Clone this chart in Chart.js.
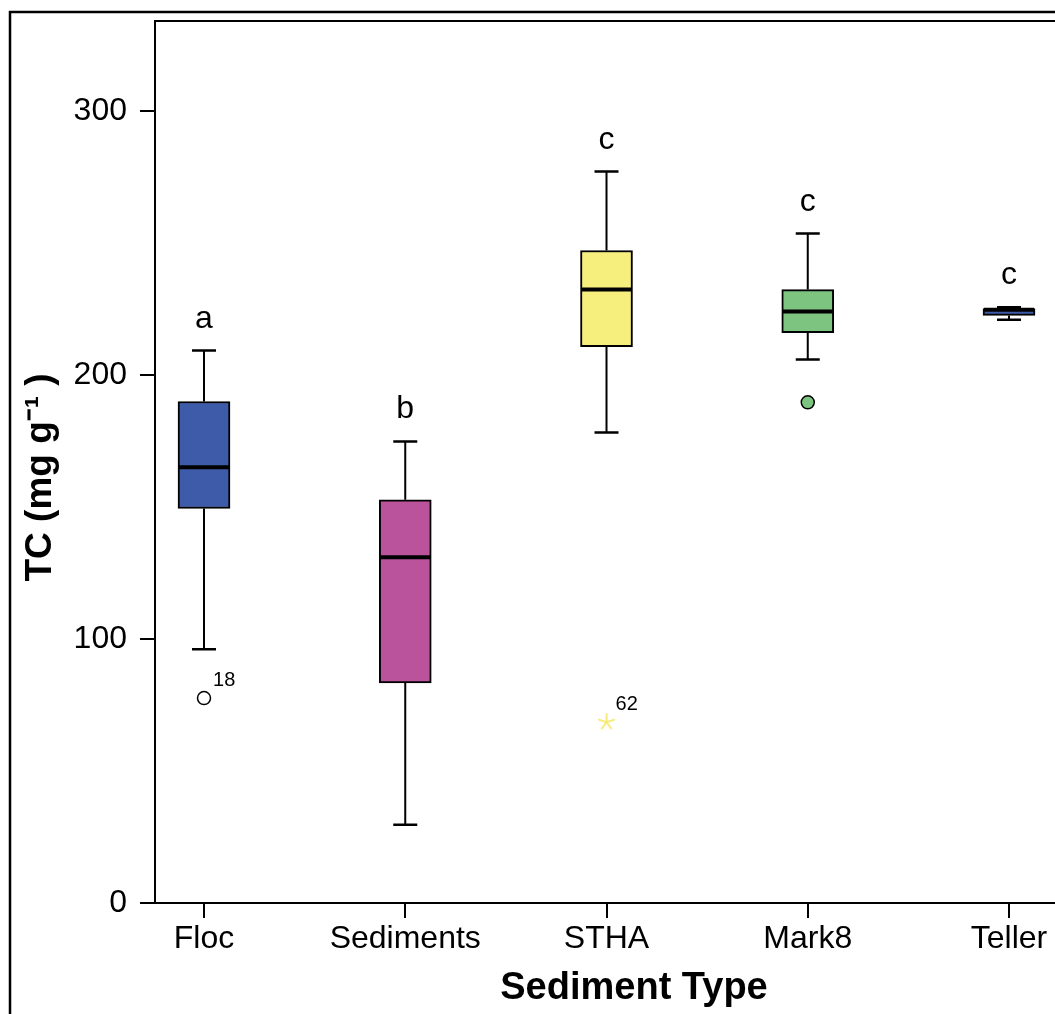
<!DOCTYPE html>
<html>
<head>
<meta charset="utf-8">
<script src="https://cdn.jsdelivr.net/npm/chart.js@4.4.1/dist/chart.umd.min.js"></script>
<style>
html, body { margin: 0; padding: 0; background: #fff; overflow: hidden; }
#wrap { position: absolute; left: 0; top: 0; width: 1130px; height: 1040px; }
</style>
</head>
<body>
<div id="wrap"><canvas id="boxChart" width="1130" height="1040"></canvas></div>
<script>
// --- DATA ---
const categories = ['Floc', 'Sediments', 'STHA', 'Mark8', 'Teller'];
const whiskerLow  = [96.1, 29.6, 178.2, 205.8, 220.9];
const q1          = [149.4, 83.3, 210.7, 216.0, 222.5];
const medians     = [165.0, 130.9, 232.3, 224.0, 224.7];
const q3          = [189.9, 152.7, 247.1, 232.3, 225.1];
const whiskerHigh = [209.2, 174.8, 277.0, 253.5, 225.6];
const groupLetters = ['a', 'b', 'c', 'c', 'c'];

// outliers : category number (1 = Floc), value, case id
const outlierCat = [1, 3, 4];
const outlierVal = [77.6, 68.5, 189.6];
const outlierId  = ['18', '62', ''];

const yTicks = [0, 100, 200, 300];

// --- STYLES ---
const FONT = "'Liberation Sans', Arial, sans-serif";
const boxColors = ['#3e5ba9', '#ba539c', '#f6ef7e', '#7cc47f', '#3e5ba9'];

// petite étoile jaune (astérisque à 5 branches) pour le cas extrême
function makeStar(color) {
    const c = document.createElement('canvas');
    c.width = 20; c.height = 20;
    const g = c.getContext('2d');
    g.strokeStyle = color;
    g.lineWidth = 1.8;
    g.lineCap = 'round';
    for (let k = 0; k < 5; k++) {
        const a = -Math.PI / 2 + k * 2 * Math.PI / 5;
        g.beginPath();
        g.moveTo(10, 10);
        g.lineTo(10 + 8 * Math.cos(a), 10 + 8 * Math.sin(a));
        g.stroke();
    }
    return c;
}
const outlierShape  = ['circle', makeStar('#f5e96a'), 'circle'];
const outlierFill   = ['#ffffff', '#f5e96a', '#7cc47f'];
const outlierBorder = ['#000000', '#f5e96a', '#000000'];

// --- PLUGIN : moustaches, médianes, lettres, cadre ---
const boxExtras = {
    id: 'boxExtras',
    beforeDraw(chart) {
        const ctx = chart.ctx;
        ctx.save();
        ctx.strokeStyle = '#000';
        ctx.lineWidth = 2.5;
        ctx.strokeRect(10, 12, chart.width + 100, chart.height + 100);
        ctx.restore();
    },
    beforeDatasetsDraw(chart) {
        const { ctx, scales: { x, y } } = chart;
        ctx.save();
        ctx.strokeStyle = '#000';
        categories.forEach((c, i) => {
            const px = x.getPixelForValue(i + 1);
            const top = y.getPixelForValue(whiskerHigh[i]);
            const bot = y.getPixelForValue(whiskerLow[i]);
            ctx.lineWidth = 2;
            ctx.beginPath();
            ctx.moveTo(px, top); ctx.lineTo(px, y.getPixelForValue(q3[i]));
            ctx.moveTo(px, bot); ctx.lineTo(px, y.getPixelForValue(q1[i]));
            ctx.stroke();
            ctx.lineWidth = 2.5;
            ctx.beginPath();
            ctx.moveTo(px - 12, top); ctx.lineTo(px + 12, top);
            ctx.moveTo(px - 12, bot); ctx.lineTo(px + 12, bot);
            ctx.stroke();
        });
        ctx.restore();
    },
    afterDatasetsDraw(chart) {
        const { ctx, chartArea, scales: { x, y } } = chart;
        ctx.save();
        // cadre du haut
        ctx.strokeStyle = '#000';
        ctx.lineWidth = 2;
        ctx.beginPath();
        ctx.moveTo(chartArea.left, chartArea.top);
        ctx.lineTo(chart.width, chartArea.top);
        ctx.stroke();

        // médianes
        ctx.lineWidth = 4;
        categories.forEach((c, i) => {
            const px = x.getPixelForValue(i + 1);
            const py = y.getPixelForValue(medians[i]);
            ctx.beginPath();
            ctx.moveTo(px - 25, py); ctx.lineTo(px + 25, py);
            ctx.stroke();
        });

        // lettres de groupe
        ctx.fillStyle = '#000';
        ctx.font = `32px ${FONT}`;
        ctx.textAlign = 'center';
        ctx.textBaseline = 'alphabetic';
        categories.forEach((c, i) => {
            ctx.fillText(groupLetters[i], x.getPixelForValue(i + 1), y.getPixelForValue(whiskerHigh[i]) - 23);
        });

        // numéros des cas aberrants
        ctx.font = `20px ${FONT}`;
        ctx.textAlign = 'left';
        outlierId.forEach((id, k) => {
            if (!id) return;
            ctx.fillText(id, x.getPixelForValue(outlierCat[k]) + 9, y.getPixelForValue(outlierVal[k]) - 12);
        });
        ctx.restore();
    }
};

const axisGrid = { drawOnChartArea: false, drawTicks: true, tickLength: 15, color: '#000', lineWidth: 2, offset: false };
const axisBorder = { display: true, color: '#000', width: 2 };
const noPad = s => { s.paddingTop = 0; s.paddingBottom = 0; s.paddingLeft = 0; s.paddingRight = 0; };

new Chart(document.getElementById('boxChart'), {
    type: 'bar',
    data: {
        datasets: [
            {
                type: 'scatter',
                data: outlierCat.map((c, k) => ({ x: c, y: outlierVal[k] })),
                pointStyle: outlierShape,
                pointRadius: 6.5,
                pointBorderWidth: 1.5,
                pointBackgroundColor: outlierFill,
                pointBorderColor: outlierBorder,
                order: 0
            },
            {
                type: 'bar',
                data: categories.map((c, i) => ({ x: i + 1, y: [q1[i], q3[i]] })),
                backgroundColor: boxColors,
                borderColor: '#000',
                borderWidth: 2,
                borderSkipped: false,
                barThickness: 52,
                order: 1
            }
        ]
    },
    options: {
        responsive: false,
        animation: false,
        devicePixelRatio: 1,
        layout: { padding: { top: 21, right: 17, left: 0, bottom: 0 } },
        plugins: { legend: { display: false }, tooltip: { enabled: false } },
        scales: {
            x: {
                type: 'linear',
                offset: false,
                min: 0.7565,
                max: 5.5167,
                afterBuildTicks: s => { s.ticks = categories.map((c, i) => ({ value: i + 1 })); },
                afterFit: s => { s.height = 137; noPad(s); },
                ticks: {
                    callback: v => categories[v - 1],
                    font: { family: FONT, size: 32 },
                    color: '#000',
                    padding: 2,
                    maxRotation: 0,
                    autoSkip: false
                },
                grid: axisGrid,
                border: axisBorder,
                title: {
                    display: true,
                    text: 'Sediment Type',
                    font: { family: FONT, size: 38, weight: 'bold' },
                    color: '#000',
                    padding: { top: 0, bottom: 29 }
                }
            },
            y: {
                min: 0,
                max: 334,
                afterBuildTicks: s => { s.ticks = yTicks.map(v => ({ value: v })); },
                afterFit: s => { s.width = 155; noPad(s); },
                ticks: { font: { family: FONT, size: 32 }, color: '#000', padding: 13 },
                grid: axisGrid,
                border: axisBorder,
                title: {
                    display: true,
                    text: 'TC (mg g\u207B\u00B9 )\u00A0\u00A0\u00A0',
                    font: { family: FONT, size: 37, weight: 'bold' },
                    color: '#000',
                    padding: { top: 19, bottom: 0 }
                }
            }
        }
    },
    plugins: [boxExtras]
});
</script>
</body>
</html>
